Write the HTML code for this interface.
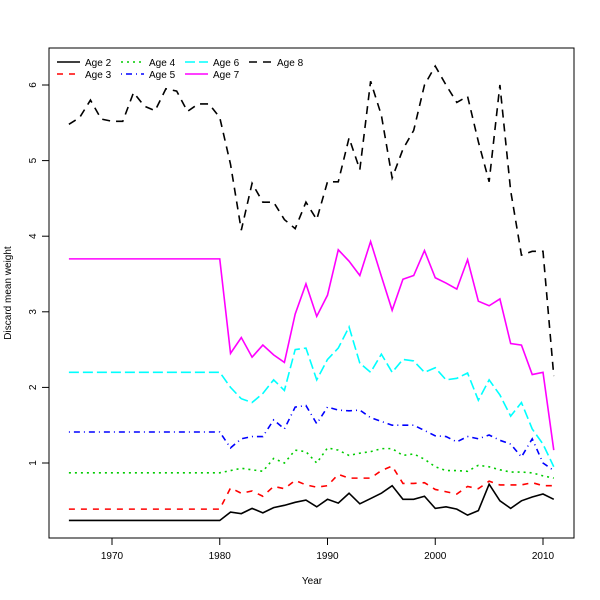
<!DOCTYPE html>
<html><head><meta charset="utf-8">
<style>body{margin:0;background:#fff}svg{display:block;font-family:"Liberation Sans",sans-serif}</style>
</head><body>
<svg id="chart" width="600" height="600"></svg>
<script>
const years = Array.from({length:46},(_,i)=>1966+i);
const c15 = v => Array(15).fill(v);
const age2 = c15(0.24).concat([0.24,0.35,0.33,0.4,0.34,0.41,0.44,0.48,0.51,0.42,0.52,0.47,0.6,0.46,0.53,0.6,0.7,0.52,0.52,0.56,0.4,0.42,0.39,0.31,0.37,0.72,0.5,0.4,0.5,0.55,0.59].slice(1)).concat([0.52]);
const age3 = c15(0.39).concat([0.67,0.6,0.63,0.56,0.69,0.66,0.77,0.71,0.68,0.7,0.85,0.8,0.8,0.8,0.9,0.96,0.73,0.73,0.74,0.65,0.62,0.59,0.69,0.66,0.76,0.71,0.71,0.71,0.74,0.7,0.7]);
const age4 = c15(0.87).concat([0.9,0.93,0.91,0.89,1.06,1.0,1.17,1.15,1.0,1.2,1.17,1.1,1.13,1.15,1.19,1.19,1.1,1.12,1.05,0.95,0.9,0.9,0.89,0.97,0.95,0.91,0.88,0.88,0.87,0.83,0.8]);
const age5 = c15(1.41).concat([1.2,1.32,1.35,1.35,1.57,1.45,1.74,1.76,1.52,1.74,1.7,1.69,1.7,1.6,1.55,1.5,1.5,1.5,1.43,1.36,1.35,1.28,1.35,1.32,1.37,1.3,1.25,1.08,1.32,1.0,0.9]);
const age6 = c15(2.2).concat([2.0,1.85,1.8,1.92,2.1,1.96,2.5,2.52,2.1,2.37,2.52,2.8,2.32,2.2,2.44,2.2,2.37,2.35,2.2,2.26,2.1,2.12,2.19,1.83,2.1,1.9,1.62,1.8,1.45,1.25,0.95]);
const age7 = c15(3.7).concat([2.45,2.66,2.4,2.56,2.43,2.33,2.97,3.37,2.94,3.22,3.82,3.67,3.48,3.93,3.47,3.02,3.43,3.48,3.81,3.45,3.38,3.3,3.69,3.14,3.08,3.17,2.58,2.56,2.17,2.2,1.17]);
const age8 = [5.48,5.57,5.8,5.55,5.52,5.52,5.9,5.72,5.66,5.95,5.92,5.65,5.75,5.75,5.57,4.95,4.08,4.7,4.45,4.45,4.22,4.1,4.45,4.22,4.72,4.72,5.3,4.88,6.05,5.6,4.77,5.15,5.4,6.0,6.25,6.0,5.77,5.85,5.25,4.72,6.0,4.6,3.75,3.8,3.8,2.15];
const xTicks = [1970,1980,1990,2000,2010];
const yTicks = [1,2,3,4,5,6];
const seriesNames = ["Age 2","Age 3","Age 4","Age 5","Age 6","Age 7","Age 8"];
const seriesData = [age2,age3,age4,age5,age6,age7,age8];
const colors = ["#000","#f00","#0c0","#00f","#0ff","#f0f","#000"];
const dashes = ["","6,6","2,4","1,4,6,4","10,4","","8,6"];

const svg = document.getElementById('chart');
const NS = 'http://www.w3.org/2000/svg';
const X = y => 112 + (y-1970)*10.775;
const Y = v => 538.6 - v*75.6;
function mk(t, a){const e=document.createElementNS(NS,t);for(const k in a)e.setAttribute(k,a[k]);svg.appendChild(e);return e;}

const frame = mk('rect',{x:49,y:48,width:525,height:490,fill:'none',stroke:'#000'});



xTicks.forEach(t=>{
  const l=mk('line',{x1:X(t),x2:X(t),y1:538,y2:545,stroke:'#000'});
  
  
  const tx=mk('text',{x:X(t),y:559,'font-size':10,'text-anchor':'middle'});tx.textContent=t;
  
  
});
yTicks.forEach(t=>{
  const l=mk('line',{x1:42,x2:49,y1:Y(t),y2:Y(t),stroke:'#000'});
  
  
  const tx=mk('text',{x:36,y:Y(t),'font-size':10,'text-anchor':'middle',transform:`rotate(-90 36 ${Y(t)})`});tx.textContent=t;
  
  
});
const xt=mk('text',{x:312,y:584,'font-size':10,'text-anchor':'middle'});xt.textContent='Year';


const yt=mk('text',{x:11,y:293,'font-size':10,'text-anchor':'middle',transform:'rotate(-90 11 293)'});yt.textContent='Discard mean weight';



seriesData.forEach((d,i)=>{
  const p=mk('polyline',{points:d.map((v,j)=>X(years[j])+','+Y(v)).join(' '),fill:'none',stroke:colors[i],'stroke-width':1.6,'stroke-dasharray':dashes[i]});
  
  
});

const legPos=[[57,62],[57,74],[121,62],[121,74],[185,62],[185,74],[249,62]];
seriesNames.forEach((n,i)=>{
  const [lx,ly]=legPos[i];
  const l=mk('line',{x1:lx,x2:lx+23,y1:ly,y2:ly,stroke:colors[i],'stroke-width':1.6,'stroke-dasharray':dashes[i]});
  
  
  const t=mk('text',{x:lx+28,y:ly+4,'font-size':10});t.textContent=n;
  
  
});
</script>
</body></html>
